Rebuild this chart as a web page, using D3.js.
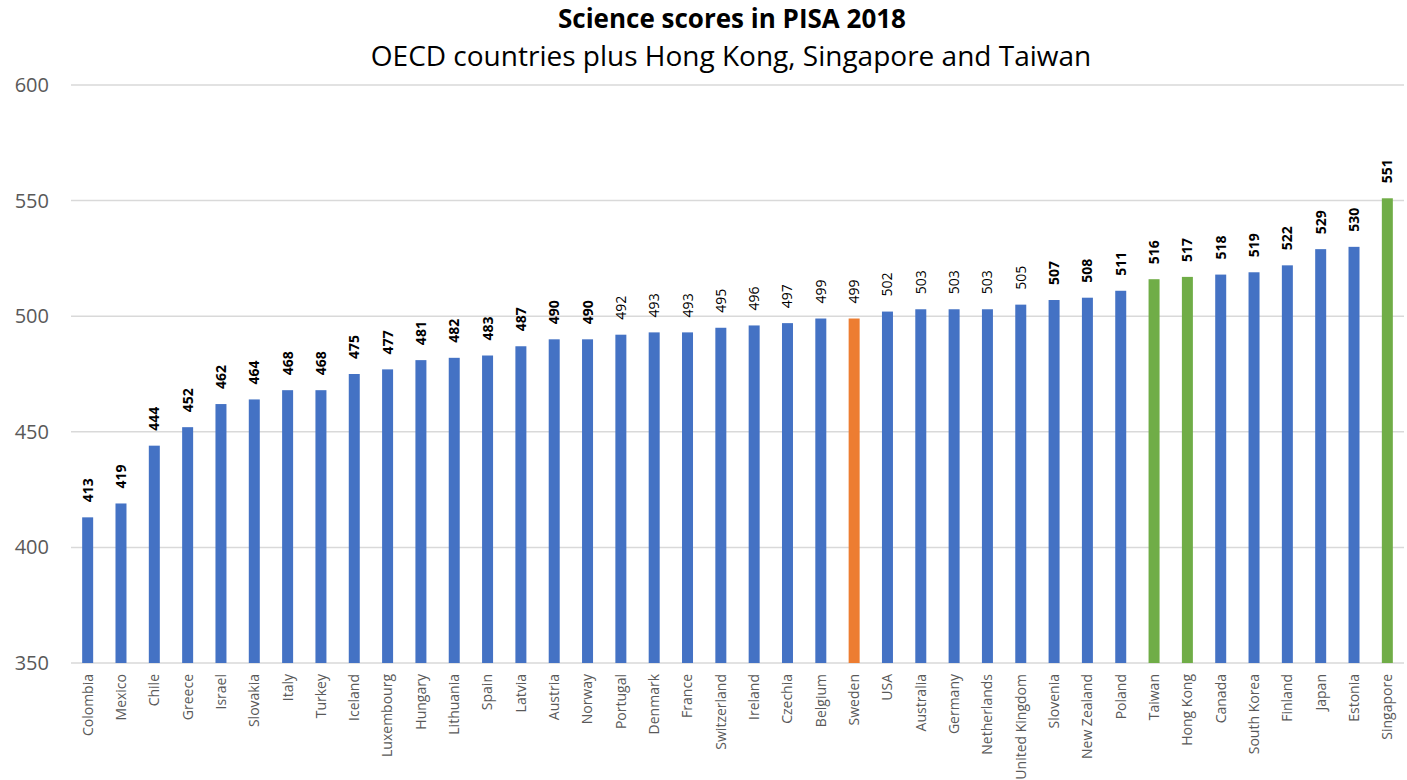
<!DOCTYPE html>
<html>
<head>
<meta charset="utf-8">
<script src="https://cdn.jsdelivr.net/npm/d3@7"></script>
<style>
  body { margin: 0; background: #fff; }
  text { font-family: "Open Sans", "Noto Sans", sans-serif; }
</style>
</head>
<body>
<svg id="chart" width="1407" height="780"></svg>
<script>
var countries = ["Colombia","Mexico","Chile","Greece","Israel","Slovakia","Italy","Turkey","Iceland","Luxembourg",
  "Hungary","Lithuania","Spain","Latvia","Austria","Norway","Portugal","Denmark","France","Switzerland",
  "Ireland","Czechia","Belgium","Sweden","USA","Australia","Germany","Netherlands","United Kingdom","Slovenia",
  "New Zealand","Poland","Taiwan","Hong Kong","Canada","South Korea","Finland","Japan","Estonia","Singapore"];
var scores = [413,419,444,452,462,464,468,468,475,477,
  481,482,483,487,490,490,492,493,493,495,
  496,497,499,499,502,503,503,503,505,507,
  508,511,516,517,518,519,522,529,530,551];
// bold label = significantly different from Sweden
var significant = [1,1,1,1,1,1,1,1,1,1,
  1,1,1,1,1,1,0,0,0,0,
  0,0,0,0,0,0,0,0,0,1,
  1,1,1,1,1,1,1,1,1,1];
var groups = ["OECD","OECD","OECD","OECD","OECD","OECD","OECD","OECD","OECD","OECD",
  "OECD","OECD","OECD","OECD","OECD","OECD","OECD","OECD","OECD","OECD",
  "OECD","OECD","OECD","Sweden","OECD","OECD","OECD","OECD","OECD","OECD",
  "OECD","OECD","Other","Other","OECD","OECD","OECD","OECD","OECD","Other"];
var yTicks = [350, 400, 450, 500, 550, 600];

var svg = d3.select("svg#chart"),
    margin = {top: 85, right: 3, bottom: 117, left: 71},
    width = +svg.attr("width") - margin.left - margin.right,
    height = +svg.attr("height") - margin.top - margin.bottom;

var color = d3.scaleOrdinal()
    .domain(["OECD", "Sweden", "Other"])
    .range(["#4472C4", "#ED7D31", "#70AD47"]);

var x = d3.scaleBand()
    .domain(countries)
    .range([0, width])
    .paddingInner(0.67)
    .paddingOuter(0.335);

var y = d3.scaleLinear()
    .domain([350, 600])
    .range([height, 0]);

var g = svg.append("g")
    .attr("transform", "translate(" + margin.left + "," + margin.top + ")");

// gridlines
g.append("g")
    .selectAll("line")
    .data(yTicks)
    .enter().append("line")
        .attr("x1", 0)
        .attr("x2", width)
        .attr("y1", function(d) { return y(d); })
        .attr("y2", function(d) { return y(d); })
        .attr("stroke", "#d9d9d9")
        .attr("stroke-width", 1.5);

// y axis labels
g.append("g")
    .call(d3.axisLeft(y).tickValues(yTicks).tickSize(0).tickPadding(22))
    .call(function(a) { a.select(".domain").remove(); })
    .selectAll("text")
        .attr("fill", "#595959")
        .style("font-size", "20px");

// bars
g.selectAll("rect.bar")
    .data(countries)
    .enter().append("rect")
        .attr("class", "bar")
        .attr("x", function(d) { return x(d); })
        .attr("width", x.bandwidth())
        .attr("y", function(d, i) { return y(scores[i]); })
        .attr("height", function(d, i) { return height - y(scores[i]); })
        .attr("fill", function(d, i) { return color(groups[i]); });

// value labels
g.selectAll("text.value")
    .data(countries)
    .enter().append("text")
        .attr("class", "value")
        .attr("transform", function(d, i) {
            return "translate(" + (x(d) + x.bandwidth() / 2 + 5) + "," + (y(scores[i]) - 15) + ") rotate(-90)";
        })
        .attr("text-anchor", "start")
        .attr("fill", "#000")
        .style("font-size", "14px")
        .style("font-weight", function(d, i) { return significant[i] ? "bold" : "normal"; })
        .text(function(d, i) { return scores[i]; });

// x axis
var xAxis = g.append("g")
    .attr("transform", "translate(0," + height + ")")
    .call(d3.axisBottom(x).tickSize(0).tickPadding(0));
xAxis.select(".domain").remove();
xAxis.selectAll("text")
    .attr("transform", "rotate(-90)")
    .attr("x", -11)
    .attr("y", 0)
    .attr("dy", "0.35em")
    .attr("text-anchor", "end")
    .attr("fill", "#595959")
    .style("font-size", "14px");

// titles
svg.append("text")
    .attr("x", 732)
    .attr("y", 28)
    .attr("text-anchor", "middle")
    .attr("fill", "#000")
    .style("font-size", "26px")
    .style("font-weight", "bold")
    .text("Science scores in PISA 2018");

svg.append("text")
    .attr("x", 731)
    .attr("y", 66)
    .attr("text-anchor", "middle")
    .attr("fill", "#000")
    .style("font-size", "28px")
    .text("OECD countries plus Hong Kong, Singapore and Taiwan");
</script>
</body>
</html>
